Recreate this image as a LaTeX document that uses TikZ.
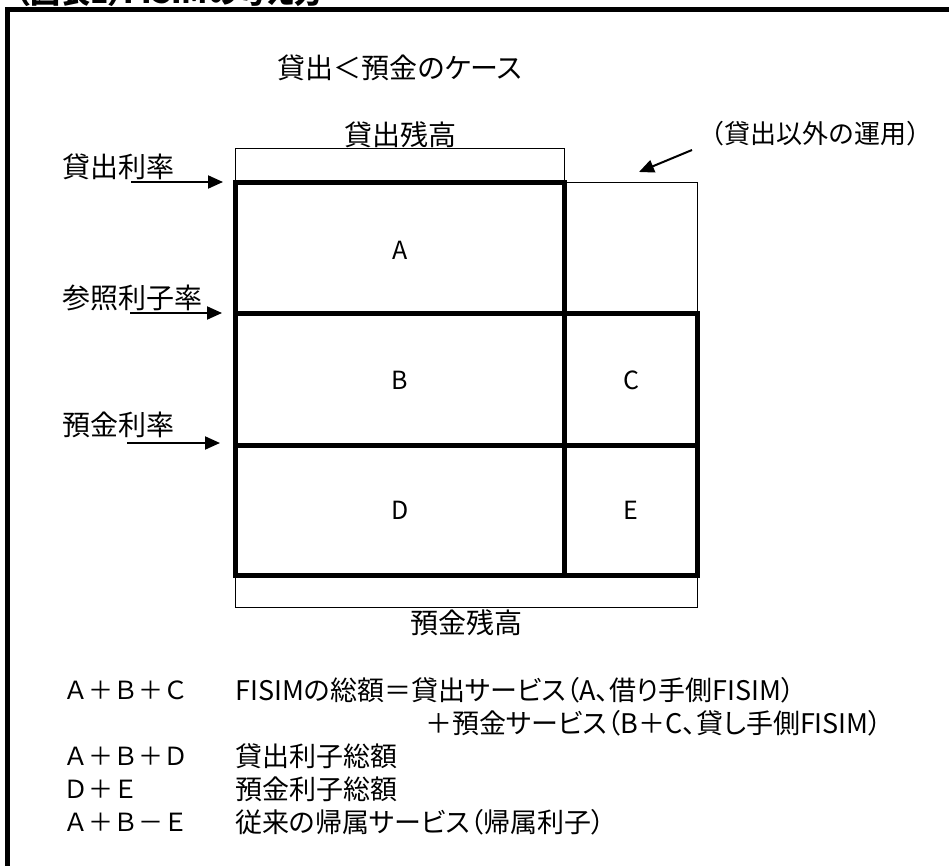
\documentclass[tikz,border=0pt]{standalone}
\usepackage{fontspec}
\setmainfont{Noto Sans CJK JP}[RawFeature=+palt]
\newfontfamily\jpfull{Noto Sans CJK JP}
\usetikzlibrary{arrows.meta}
\tikzset{
  lbl/.style={inner sep=0pt, font=\fontsize{28}{32}\selectfont},
  cell/.style={inner sep=0pt, font=\fontsize{25}{30}\selectfont},
  note/.style={inner sep=0pt, anchor=west, font=\fontsize{27}{31}\selectfont},
  notekey/.style={inner sep=0pt, anchor=west, font=\jpfull\fontsize{25}{30}\selectfont},
  thin/.style={line width=1pt},
  thick/.style={line width=5pt, line join=miter, line cap=rect},
  ratearrow/.style={line width=2pt, -{Triangle[length=15pt,width=13pt]}},
  frame/.style={line width=5pt, line join=miter}
}
\begin{document}
\begin{tikzpicture}[x=1pt,y=-1pt]
\useasboundingbox (0,0) rectangle (949,866);
% cut-off title and frame
\node[anchor=base west, inner sep=0pt, font=\bfseries\fontsize{30}{34}\selectfont] (title) at (15,4) {（図表1）FISIMの考え方};
\draw[frame] (7,880) -- (7,10) -- (960,10);
% heading
\node[lbl] (head) at (400,68) {貸出＜預金のケース};
\node[lbl] (loan) at (400,135) {貸出残高};
\node[lbl] (dep) at (466,623) {預金残高};
\node[lbl, font=\jpfull\fontsize{26}{30}\selectfont] (other) at (815,134) {（貸出以外の運用）};
% thin boxes
\draw[thin] (235,183) -- (235,149) -- (564,149) -- (564,183);
\draw[thin] (564,183) -- (697,183) -- (697,313);
\draw[thin] (235,575) -- (235,607) -- (697,607) -- (697,575);
% thick grid
\draw[thick] (564,183) -- (235,183) -- (235,575) -- (697,575) -- (697,313) -- (235,313);
\draw[thick] (235,445) -- (697,445);
\draw[thick] (564,183) -- (564,575);
% cells
\node[cell] (A) at (400,250) {A};
\node[cell] (B) at (400,380) {B};
\node[cell] (C) at (631,380) {C};
\node[cell] (D) at (400,510) {D};
\node[cell] (E) at (631,510) {E};
% rate labels and arrows
\node[lbl, anchor=west] (r1) at (62,167) {貸出利率};
\node[lbl, anchor=west] (r2) at (62,298) {参照利子率};
\node[lbl, anchor=west] (r3) at (62,425) {預金利率};
\coordinate (a1s) at (131,182); \coordinate (a1e) at (223,182);
\coordinate (a2s) at (130,313); \coordinate (a2e) at (222,313);
\coordinate (a3s) at (127,443); \coordinate (a3e) at (220,443);
\draw[ratearrow] (a1s) -- (a1e);
\draw[ratearrow] (a2s) -- (a2e);
\draw[ratearrow] (a3s) -- (a3e);
\coordinate (o1) at (692,150); \coordinate (o2) at (639,172);
\draw[ratearrow] (o1) -- (o2);
% notes
\node[notekey] (n1a) at (63,690) {Ａ＋Ｂ＋Ｃ};
\node[note] (n1b) at (235,690) {FISIMの総額＝貸出サービス（A、借り手側FISIM）};
\node[note] (n2b) at (425,723) {＋預金サービス（B＋C、貸し手側FISIM）};
\node[notekey] (n3a) at (63,756) {Ａ＋Ｂ＋Ｄ};
\node[note] (n3b) at (235,756) {貸出利子総額};
\node[notekey] (n4a) at (63,789) {Ｄ＋Ｅ};
\node[note] (n4b) at (235,789) {預金利子総額};
\node[notekey] (n5a) at (63,822) {Ａ＋Ｂ－Ｅ};
\node[note] (n5b) at (235,822) {従来の帰属サービス（帰属利子）};
\end{tikzpicture}
\end{document}
